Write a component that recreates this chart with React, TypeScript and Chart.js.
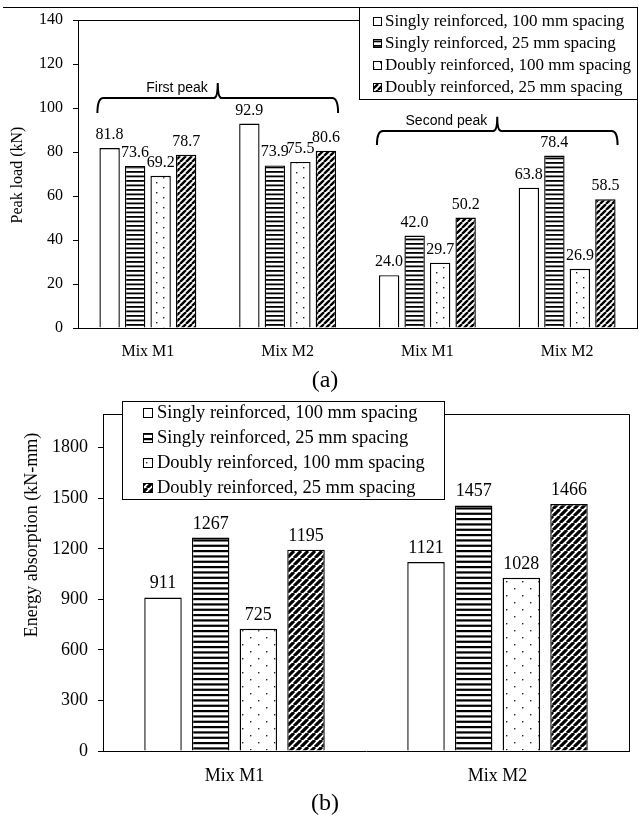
import React, { useEffect, useRef } from 'react';
import { Chart, registerables } from 'chart.js';

Chart.register(...registerables);

// ---------- data ----------
const SERIES_LABELS = [
  'Singly reinforced, 100 mm spacing',
  'Singly reinforced, 25 mm spacing',
  'Doubly reinforced, 100 mm spacing',
  'Doubly reinforced, 25 mm spacing',
];

const PEAK_CATEGORIES = ['Mix M1', 'Mix M2', 'Mix M1', 'Mix M2'];
const PEAK_SINGLY_100 = [81.8, 92.9, 24.0, 63.8];
const PEAK_SINGLY_25 = [73.6, 73.9, 42.0, 78.4];
const PEAK_DOUBLY_100 = [69.2, 75.5, 29.7, 26.9];
const PEAK_DOUBLY_25 = [78.7, 80.6, 50.2, 58.5];
const PEAK_GROUP_NAMES = ['First peak', 'Second peak'];
const PEAK_Y_MAX = 140;
const PEAK_Y_STEP = 20;
const PEAK_TITLE = 'Peak load (kN)';

const ENERGY_CATEGORIES = ['Mix M1', 'Mix M2'];
const ENERGY_SINGLY_100 = [911, 1121];
const ENERGY_SINGLY_25 = [1267, 1457];
const ENERGY_DOUBLY_100 = [725, 1028];
const ENERGY_DOUBLY_25 = [1195, 1466];
const ENERGY_Y_MAX = 2000;
const ENERGY_Y_STEP = 300;
const ENERGY_Y_LAST_TICK = 1800;
const ENERGY_TITLE = 'Energy absorption (kN-mm)';

const SERIF = "'Liberation Serif', 'Times New Roman', serif";
const SANS = "'Liberation Sans', Arial, sans-serif";

// ---------- patterns ----------
type PatternSpec = {
  stripeTileH: number; stripeCount: number; stripeThick: number;
  dotW: number; dotH: number;
  diagSize: number; diagWidth: number;
};

function tile(w: number, h: number, draw: (g: CanvasRenderingContext2D) => void) {
  const c = document.createElement('canvas');
  c.width = w; c.height = h;
  const g = c.getContext('2d')!;
  g.fillStyle = '#fff';
  g.fillRect(0, 0, w, h);
  draw(g);
  return c;
}

function makeFills(ctx: CanvasRenderingContext2D, s: PatternSpec): (string | CanvasPattern)[] {
  const stripes = tile(4, s.stripeTileH, (g) => {
    g.fillStyle = '#000';
    for (let i = 0; i < s.stripeCount; i++) {
      g.fillRect(0, (i * s.stripeTileH) / s.stripeCount, 4, s.stripeThick);
    }
  });
  const dots = tile(s.dotW, s.dotH, (g) => {
    g.fillStyle = '#222';
    const hw = s.dotW / 2, hh = s.dotH / 2;
    g.fillRect(2, 2, 1.4, 1.4);
    g.fillRect(2 + hw, 2 + hh, 1.4, 1.4);
  });
  const diag = tile(s.diagSize, s.diagSize, (g) => {
    g.strokeStyle = '#000';
    g.lineWidth = s.diagWidth;
    g.beginPath();
    for (let k = -1; k <= 1; k++) {
      g.moveTo(k * s.diagSize, s.diagSize);
      g.lineTo(k * s.diagSize + s.diagSize, 0);
    }
    g.stroke();
  });
  return [
    '#fff',
    ctx.createPattern(stripes, 'repeat')!,
    ctx.createPattern(dots, 'repeat')!,
    ctx.createPattern(diag, 'repeat')!,
  ];
}

// ---------- plugins ----------
const px = (v: number) => Math.round(v) + 0.5;

function framePlugin(topLine?: { y: number; x0: number; x1: number }) {
  return {
    id: 'frame',
    afterDraw(chart: any) {
      const { ctx, chartArea: a } = chart;
      ctx.save();
      ctx.strokeStyle = '#000';
      ctx.lineWidth = 1;
      ctx.beginPath();
      ctx.moveTo(px(a.left), px(a.top));
      ctx.lineTo(px(a.right), px(a.top));
      ctx.lineTo(px(a.right), px(a.bottom));
      if (topLine) {
        ctx.moveTo(topLine.x0, px(topLine.y));
        ctx.lineTo(topLine.x1, px(topLine.y));
      }
      ctx.stroke();
      ctx.restore();
    },
  };
}

function valueLabelPlugin(fontSize: number, decimals: number, offset: number) {
  return {
    id: 'valueLabels',
    afterDatasetsDraw(chart: any) {
      const { ctx } = chart;
      ctx.save();
      ctx.fillStyle = '#000';
      ctx.font = `${fontSize}px ${SERIF}`;
      ctx.textAlign = 'center';
      ctx.textBaseline = 'alphabetic';
      chart.data.datasets.forEach((ds: any, di: number) => {
        const meta = chart.getDatasetMeta(di);
        meta.data.forEach((el: any, i: number) => {
          const v = ds.data[i] as number;
          ctx.fillText(decimals > 0 ? v.toFixed(decimals) : String(v), el.x, el.y - offset);
        });
      });
      ctx.restore();
    },
  };
}

type BraceSpec = { line: number; end: number; tip: number };
function bracePlugin(names: string[], specs: BraceSpec[]) {
  return {
    id: 'braces',
    afterDatasetsDraw(chart: any) {
      const { ctx } = chart;
      const y = chart.scales.y;
      const first = chart.getDatasetMeta(0).data;
      const last = chart.getDatasetMeta(chart.data.datasets.length - 1).data;
      ctx.save();
      ctx.strokeStyle = '#000';
      ctx.lineWidth = 2;
      ctx.fillStyle = '#000';
      ctx.font = `14px ${SANS}`;
      ctx.textAlign = 'right';
      ctx.textBaseline = 'alphabetic';
      names.forEach((name, gi) => {
        const a = first[gi * 2];
        const b = last[gi * 2 + 1];
        const x0 = a.x - a.width / 2 - 2;
        const x1 = b.x + b.width / 2 + 2;
        const xm = (x0 + x1) / 2;
        const sp = specs[gi];
        const yl = y.getPixelForValue(sp.line);
        const ye = y.getPixelForValue(sp.end);
        const yt = y.getPixelForValue(sp.tip);
        const r = 6, r2 = 4;
        ctx.beginPath();
        ctx.moveTo(x0, ye);
        ctx.quadraticCurveTo(x0, yl, x0 + r, yl);
        ctx.lineTo(xm - r2, yl);
        ctx.quadraticCurveTo(xm, yl, xm, yt);
        ctx.moveTo(xm, yt);
        ctx.quadraticCurveTo(xm, yl, xm + r2, yl);
        ctx.lineTo(x1 - r, yl);
        ctx.quadraticCurveTo(x1, yl, x1, ye);
        ctx.stroke();
        ctx.fillText(name, xm - 10, yl - 6);
      });
      ctx.restore();
    },
  };
}

type LegendSpec = {
  box: [number, number, number, number];
  rows: number[];
  markerX: number; markerSize: number; textX: number; fontSize: number;
};
function legendPlugin(spec: LegendSpec) {
  return {
    id: 'boxLegend',
    afterDraw(chart: any) {
      const { ctx } = chart;
      const [bx0, by0, bx1, by1] = spec.box;
      ctx.save();
      ctx.fillStyle = '#fff';
      ctx.fillRect(bx0, by0, bx1 - bx0, by1 - by0);
      ctx.strokeStyle = '#000';
      ctx.lineWidth = 1;
      ctx.strokeRect(px(bx0), px(by0), bx1 - bx0, by1 - by0);
      ctx.font = `${spec.fontSize}px ${SERIF}`;
      ctx.textBaseline = 'middle';
      ctx.textAlign = 'left';
      chart.data.datasets.forEach((ds: any, i: number) => {
        const cy = spec.rows[i];
        const m = spec.markerSize;
        const mx = spec.markerX, my = Math.round(cy - m / 2);
        ctx.fillStyle = ds.backgroundColor;
        ctx.fillRect(mx, my, m, m);
        ctx.strokeStyle = '#000';
        ctx.strokeRect(mx + 0.5, my + 0.5, m - 1, m - 1);
        ctx.fillStyle = '#000';
        ctx.fillText(ds.label, spec.textX, cy);
      });
      ctx.restore();
    },
  };
}

function yTitlePlugin(text: string, x: number, y: number, fontSize: number) {
  return {
    id: 'yTitle',
    afterDraw(chart: any) {
      const { ctx } = chart;
      ctx.save();
      ctx.translate(x, y);
      ctx.rotate(-Math.PI / 2);
      ctx.fillStyle = '#000';
      ctx.font = `${fontSize}px ${SERIF}`;
      ctx.textAlign = 'center';
      ctx.textBaseline = 'middle';
      ctx.fillText(text, 0, 0);
      ctx.restore();
    },
  };
}

// ---------- charts ----------
function buildDatasets(fills: (string | CanvasPattern)[], series: number[][], catPct: number, barPct: number) {
  return series.map((data, i) => ({
    label: SERIES_LABELS[i],
    data,
    backgroundColor: fills[i] as any,
    borderColor: '#000',
    borderWidth: 1.4,
    categoryPercentage: catPct,
    barPercentage: barPct,
  }));
}

const plainTick = (v: any) => String(v);

function PeakChart() {
  const ref = useRef<HTMLCanvasElement>(null);
  useEffect(() => {
    const canvas = ref.current!;
    const ctx = canvas.getContext('2d')!;
    const fills = makeFills(ctx, {
      stripeTileH: 9, stripeCount: 2, stripeThick: 1.8,
      dotW: 14, dotH: 10, diagSize: 6, diagWidth: 2.4,
    });
    const chart = new Chart(canvas, {
      type: 'bar',
      data: {
        labels: PEAK_CATEGORIES,
        datasets: buildDatasets(fills, [PEAK_SINGLY_100, PEAK_SINGLY_25, PEAK_DOUBLY_100, PEAK_DOUBLY_25], 0.73, 0.8),
      },
      options: {
        responsive: false,
        animation: false,
        events: [],
        layout: { padding: { top: 20, right: 3, left: 0, bottom: 0 } },
        plugins: { legend: { display: false }, tooltip: { enabled: false } },
        scales: {
          x: {
            grid: { display: false },
            border: { color: '#000', width: 1 },
            ticks: { color: '#000', font: { family: SERIF, size: 16 }, padding: 6, maxRotation: 0 },
            afterFit: (s: any) => { s.height = 62; },
          },
          y: {
            min: 0,
            max: PEAK_Y_MAX,
            ticks: { stepSize: PEAK_Y_STEP, color: '#000', font: { family: SERIF, size: 16 }, padding: 10, callback: plainTick },
            grid: { drawOnChartArea: false, drawTicks: true, tickLength: 5, color: '#000' },
            border: { color: '#000', width: 1 },
            afterFit: (s: any) => { s.width = 78; },
          },
        },
      } as any,
      plugins: [
        framePlugin({ y: 7, x0: 3, x1: 637 }),
        valueLabelPlugin(16, 1, 9),
        bracePlugin(PEAK_GROUP_NAMES, [
          { line: 104.5, end: 97.7, tip: 111.4 },
          { line: 89.5, end: 83.2, tip: 96 },
        ]),
        legendPlugin({ box: [359, 7, 637, 99], rows: [21.7, 43.5, 65.5, 87.3], markerX: 373, markerSize: 9, textX: 385, fontSize: 17 }),
        yTitlePlugin(PEAK_TITLE, 18, 175, 16),
      ],
    });
    return () => chart.destroy();
  }, []);
  return (
    <canvas ref={ref} width={640} height={390}
      style={{ position: 'absolute', left: 0, top: 0, width: 640, height: 390 }} />
  );
}

function EnergyChart() {
  const ref = useRef<HTMLCanvasElement>(null);
  useEffect(() => {
    const canvas = ref.current!;
    const ctx = canvas.getContext('2d')!;
    const fills = makeFills(ctx, {
      stripeTileH: 16, stripeCount: 3, stripeThick: 2.2,
      dotW: 16, dotH: 14, diagSize: 7, diagWidth: 3.1,
    });
    const chart = new Chart(canvas, {
      type: 'bar',
      data: {
        labels: ENERGY_CATEGORIES,
        datasets: buildDatasets(fills, [ENERGY_SINGLY_100, ENERGY_SINGLY_25, ENERGY_DOUBLY_100, ENERGY_DOUBLY_25], 0.725, 0.786),
      },
      options: {
        responsive: false,
        animation: false,
        events: [],
        layout: { padding: { top: 24, right: 11, left: 0, bottom: 0 } },
        plugins: { legend: { display: false }, tooltip: { enabled: false } },
        scales: {
          x: {
            grid: { display: false },
            border: { color: '#000', width: 1 },
            ticks: { color: '#000', font: { family: SERIF, size: 18 }, padding: 6, maxRotation: 0 },
            afterFit: (s: any) => { s.height = 65; },
          },
          y: {
            min: 0,
            max: ENERGY_Y_MAX,
            ticks: { stepSize: ENERGY_Y_STEP, color: '#000', font: { family: SERIF, size: 18 }, padding: 10, callback: plainTick },
            afterBuildTicks: (s: any) => { s.ticks = s.ticks.filter((t: any) => t.value <= ENERGY_Y_LAST_TICK); },
            grid: { drawOnChartArea: false, drawTicks: true, tickLength: 5, color: '#000' },
            border: { color: '#000', width: 1 },
            afterFit: (s: any) => { s.width = 103; },
          },
        },
      } as any,
      plugins: [
        framePlugin(),
        valueLabelPlugin(18, 0, 9),
        legendPlugin({ box: [122, 11, 444, 109], rows: [23, 48, 73, 98], markerX: 143, markerSize: 10, textX: 157, fontSize: 18.5 }),
        yTitlePlugin(ENERGY_TITLE, 32, 145, 18),
      ],
    });
    return () => chart.destroy();
  }, []);
  return (
    <canvas ref={ref} width={640} height={426}
      style={{ position: 'absolute', left: 0, top: 390, width: 640, height: 426 }} />
  );
}

const captionStyle: React.CSSProperties = {
  position: 'absolute', left: 0, width: 650, textAlign: 'center',
  fontFamily: SERIF, fontSize: 24, lineHeight: '24px', color: '#000',
};

export default function App() {
  return (
    <div style={{ position: 'absolute', left: 0, top: 0, width: 640, height: 816, background: '#fff', overflow: 'hidden' }}>
      <PeakChart />
      <div style={{ ...captionStyle, top: 367 }}>(a)</div>
      <EnergyChart />
      <div style={{ ...captionStyle, top: 790 }}>(b)</div>
    </div>
  );
}
